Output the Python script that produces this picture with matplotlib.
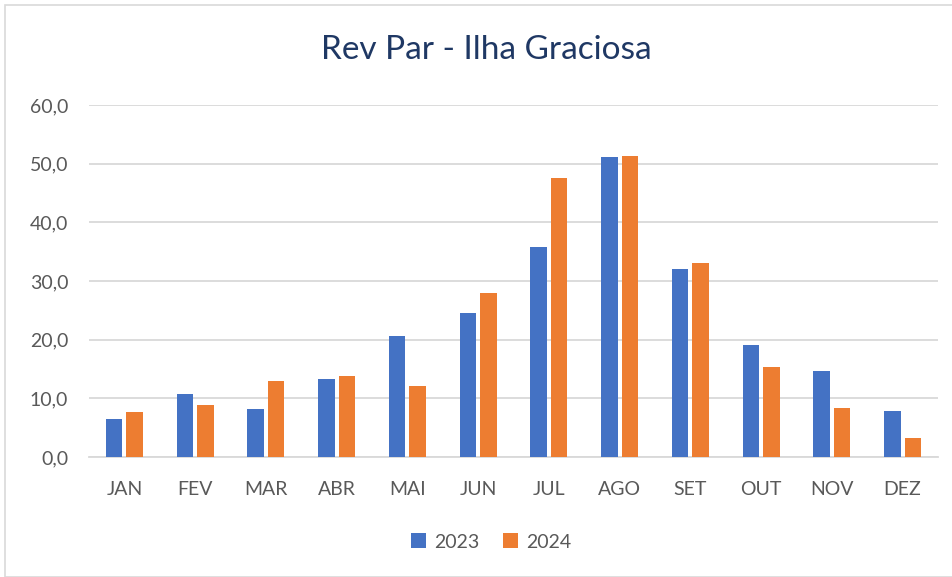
import matplotlib
matplotlib.use("Agg")
import matplotlib.pyplot as plt
import numpy as np
from matplotlib.patches import Rectangle

months = ["JAN", "FEV", "MAR", "ABR", "MAI", "JUN", "JUL", "AGO", "SET", "OUT", "NOV", "DEZ"]
rev_2023 = [6.5, 10.8, 8.2, 13.3, 20.7, 24.6, 35.8, 51.2, 32.1, 19.1, 14.6, 7.9]
rev_2024 = [7.6, 8.8, 12.9, 13.8, 12.1, 27.9, 47.6, 51.3, 33.0, 15.4, 8.3, 3.3]
yticks = [0, 10, 20, 30, 40, 50, 60]

plt.rcParams['font.family'] = ['Lato', 'DejaVu Sans']

fig = plt.figure(figsize=(9.53, 5.77), dpi=100)
ax = fig.add_axes([89/953, 1-457/577, 849/953, 352/577])

x = np.arange(len(months))
w = 0.23
off = 0.145
c1 = "#4472C4"
c2 = "#ED7D31"
ax.bar(x - off, rev_2023, width=w, color=c1, label="2023", zorder=3)
ax.bar(x + off, rev_2024, width=w, color=c2, label="2024", zorder=3)

ax.set_xlim(-0.5, len(months) - 0.5)
ax.set_ylim(0, 60)
ax.set_yticks(yticks)
ax.set_yticklabels([f"{v:.1f}".replace(".", ",") for v in yticks])
ax.set_xticks(x)
ax.set_xticklabels(months)
ax.tick_params(axis="both", length=0, colors="#595959", labelsize=14)
ax.tick_params(axis="y", pad=15)
ax.tick_params(axis="x", pad=17)
ax.grid(axis="y", color="#D9D9D9", linewidth=1.3, zorder=0)
for s in ["top", "right", "left"]:
    ax.spines[s].set_visible(False)
ax.spines["bottom"].set_color("#D9D9D9")
ax.spines["bottom"].set_linewidth(1.3)

fig.text(486/953, 1 - 50/577, "Rev Par - Ilha Graciosa", ha="center", va="center",
         fontsize=24, color="#1F3864")

leg = fig.legend(loc="center", bbox_to_anchor=(491/953, 1 - 542/577), ncol=2, frameon=False,
                 fontsize=14, handlelength=0.8, handleheight=0.8, columnspacing=1.2,
                 handletextpad=0.4)
for t in leg.get_texts():
    t.set_color("#595959")

fig.patches.append(Rectangle((5/953, 0), 1 - 5/953, 1 - 5/577, transform=fig.transFigure,
                             fill=False, edgecolor="#D9D9D9", linewidth=1.2))

fig.savefig("out.png", dpi=100)
